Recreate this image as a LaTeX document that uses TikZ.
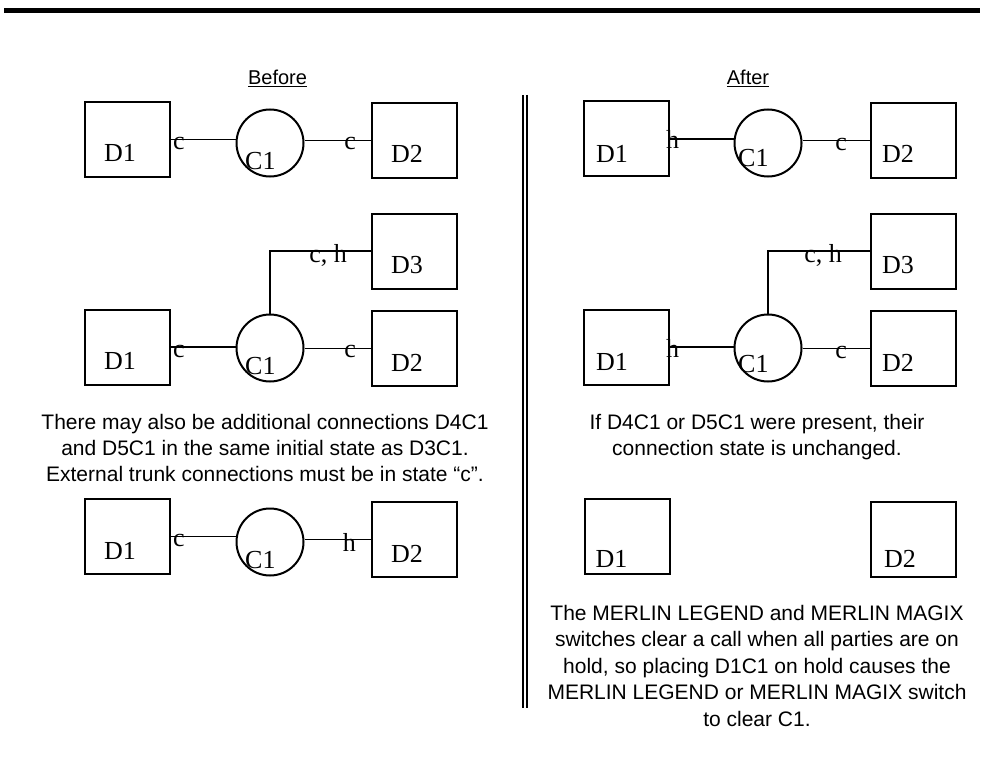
\documentclass[tikz,border=0pt]{standalone}
\usepackage{fontspec}
\setmainfont{Liberation Serif}
\setsansfont{Liberation Sans}
\usetikzlibrary{calc}
\begin{document}
\begin{tikzpicture}[x=1pt,y=-1pt,
  dev/.style={draw, line width=2pt, minimum width=85pt, minimum height=75pt, inner sep=0pt},
  callc/.style={draw, circle, line width=2pt, minimum size=67pt, inner sep=0pt},
  conn/.style={line width=1.6pt},
  lbl/.style={font=\fontsize{26}{26}\selectfont, inner sep=0pt},
  txt/.style={font=\sffamily\fontsize{21}{26}\selectfont, inner sep=0pt, anchor=base},
  head/.style={font=\sffamily\fontsize{20}{24}\selectfont, inner sep=0pt, anchor=base},
  rule/.style={line width=1.5pt}]
\useasboundingbox (0,0) rectangle (984,778);

% top bar
\coordinate (barL) at (4,10.5);
\coordinate (barR) at (980,10.5);
\draw[line width=4.5pt] (barL) -- (barR);

% headings
\node[head] (hbefore) at (277.5,85) {\underline{Before}};
\node[head] (hafter) at (748,85) {\underline{After}};

% divider
\coordinate (v1t) at (523,95); \coordinate (v1b) at (523,708);
\coordinate (v2t) at (527,95); \coordinate (v2b) at (527,708);
\draw[rule] (v1t) -- (v1b);
\draw[rule] (v2t) -- (v2b);

% ===== BEFORE =====
% row 1
\node[dev] (ba1) at (127.5,139.5) {};
\node[callc] (bac) at (270,143) {};
\node[dev] (ba2) at (414.5,140.5) {};
\node[lbl, anchor=base west] (ba1t) at ($(ba1.south west)+(20,-16)$) {D1};
\node[lbl, anchor=base west] (ba2t) at ($(ba2.south west)+(20,-16)$) {D2};
\node[lbl, anchor=base west] (bact) at ($(bac.center)+(-25,26)$) {C1};
\draw[conn] (ba1.east) -- (ba1.east -| bac.west);
\draw[conn] (bac.east |- ba2.west) -- (ba2.west);
\node[lbl, anchor=base west] (bal1) at ($(ba1.east)+(2,10)$) {c};
\node[lbl, anchor=base east] (bal2) at ($(ba2.west)+(-15,9)$) {c};

% row 2
\node[dev] (bb1) at (127.5,347) {};
\node[callc] (bbc) at (270,348) {};
\node[dev] (bb3) at (414.5,251) {};
\node[dev] (bb2) at (414.5,348.5) {};
\node[lbl, anchor=base west] (bb1t) at ($(bb1.south west)+(20,-16)$) {D1};
\node[lbl, anchor=base west] (bb2t) at ($(bb2.south west)+(20,-16)$) {D2};
\node[lbl, anchor=base west] (bb3t) at ($(bb3.south west)+(20,-16)$) {D3};
\node[lbl, anchor=base west] (bbct) at ($(bbc.center)+(-25,26)$) {C1};
\draw[conn] (bb1.east) -- (bb1.east -| bbc.west);
\draw[conn] (bbc.east |- bb2.west) -- (bb2.west);
\draw[conn] (bbc.north) |- (bb3.west);
\node[lbl, anchor=base west] (bbl1) at ($(bb1.east)+(2,10)$) {c};
\node[lbl, anchor=base east] (bbl2) at ($(bb2.west)+(-15,9)$) {c};
\node[lbl, anchor=base east] (bbl3) at ($(bb3.west)+(-24,11)$) {c, h};

% text
\node[txt] (bt1) at (265,429) {There may also be additional connections D4C1};
\node[txt] (bt2) at (265,455) {and D5C1 in the same initial state as D3C1.};
\node[txt] (bt3) at (265,481) {External trunk connections must be in state \char"201Cc\char"201D.};

% row 3
\node[dev] (bc1) at (127.5,536.5) {};
\node[callc] (bcc) at (270,542) {};
\node[dev] (bc2) at (414.5,539.5) {};
\node[lbl, anchor=base west] (bc1t) at ($(bc1.south west)+(20,-16)$) {D1};
\node[lbl, anchor=base west] (bc2t) at ($(bc2.south west)+(20,-16)$) {D2};
\node[lbl, anchor=base west] (bcct) at ($(bcc.center)+(-25,26)$) {C1};
\draw[conn] (bc1.east) -- (bc1.east -| bcc.west);
\draw[conn] (bcc.east |- bc2.west) -- (bc2.west);
\node[lbl, anchor=base west] (bcl1) at ($(bc1.east)+(2,10)$) {c};
\node[lbl, anchor=base east] (bcl2) at ($(bc2.west)+(-15,12)$) {h};

% ===== AFTER =====
% row 1
\node[dev] (aa1) at (626.5,139) {};
\node[callc] (aac) at (768,143) {};
\node[dev] (aa2) at (913.5,140.5) {};
\node[lbl, anchor=base west] (aa1t) at ($(aa1.south west)+(13,-15)$) {D1};
\node[lbl, anchor=base west] (aa2t) at ($(aa2.south west)+(12,-16)$) {D2};
\node[lbl, anchor=base west] (aact) at ($(aac.center)+(-30,24)$) {C1};
\draw[conn] (aa1.east) -- (aa1.east -| aac.west);
\draw[conn] (aac.east |- aa2.west) -- (aa2.west);
\node[lbl, anchor=base west] (aal1) at ($(aa1.east)+(-4,10)$) {h};
\node[lbl, anchor=base east] (aal2) at ($(aa2.west)+(-23,10)$) {c};

% row 2
\node[dev] (ab1) at (626.5,347) {};
\node[callc] (abc) at (768,348) {};
\node[dev] (ab3) at (913.5,251) {};
\node[dev] (ab2) at (913.5,348.5) {};
\node[lbl, anchor=base west] (ab1t) at ($(ab1.south west)+(13,-15)$) {D1};
\node[lbl, anchor=base west] (ab2t) at ($(ab2.south west)+(12,-16)$) {D2};
\node[lbl, anchor=base west] (ab3t) at ($(ab3.south west)+(12,-16)$) {D3};
\node[lbl, anchor=base west] (abct) at ($(abc.center)+(-30,24)$) {C1};
\draw[conn] (ab1.east) -- (ab1.east -| abc.west);
\draw[conn] (abc.east |- ab2.west) -- (ab2.west);
\draw[conn] (abc.north) |- (ab3.west);
\node[lbl, anchor=base west] (abl1) at ($(ab1.east)+(-4,10)$) {h};
\node[lbl, anchor=base east] (abl2) at ($(ab2.west)+(-23,10)$) {c};
\node[lbl, anchor=base east] (abl3) at ($(ab3.west)+(-28,11)$) {c, h};

% text
\node[txt] (at1) at (757,429) {If D4C1 or D5C1 were present, their};
\node[txt] (at2) at (757,455) {connection state is unchanged.};

% row 3
\node[dev] (ac1) at (627,536.5) {};
\node[dev] (ac2) at (913.5,539.5) {};
\node[lbl, anchor=base west] (ac1t) at ($(ac1.south west)+(12,-8)$) {D1};
\node[lbl, anchor=base west] (ac2t) at ($(ac2.south west)+(14,-11)$) {D2};

% bottom text
\node[txt] (ct1) at (757,620) {The MERLIN LEGEND and MERLIN MAGIX};
\node[txt] (ct2) at (757,646.5) {switches clear a call when all parties are on};
\node[txt] (ct3) at (757,673) {hold, so placing D1C1 on hold causes the};
\node[txt] (ct4) at (757,699.5) {MERLIN LEGEND or MERLIN MAGIX switch};
\node[txt] (ct5) at (757,726) {to clear C1.};
\end{tikzpicture}
\end{document}
